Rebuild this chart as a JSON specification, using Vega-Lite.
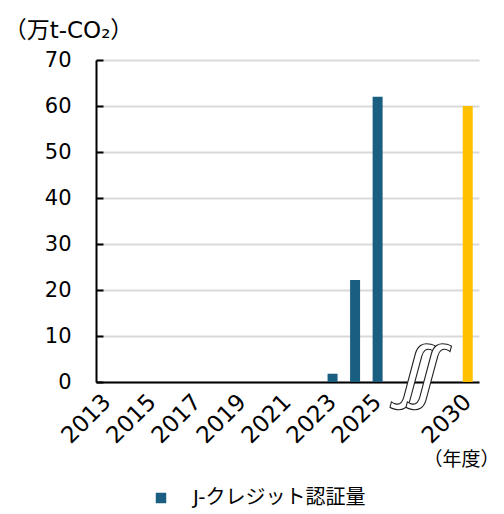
{
  "$schema": "https://vega.github.io/schema/vega-lite/v6.json",
  "width": 383,
  "height": 322,
  "autosize": "none",
  "padding": {"left": 96, "top": 60, "right": 25, "bottom": 132},
  "background": "white",
  "config": {"view": {"stroke": null}, "font": "DejaVu Sans, Noto Sans CJK JP"},
  "data": {"values": [
    {"year": "2013", "value": 0, "type": "J-クレジット認証量"},
    {"year": "2014", "value": 0, "type": "J-クレジット認証量"},
    {"year": "2015", "value": 0, "type": "J-クレジット認証量"},
    {"year": "2016", "value": 0, "type": "J-クレジット認証量"},
    {"year": "2017", "value": 0, "type": "J-クレジット認証量"},
    {"year": "2018", "value": 0, "type": "J-クレジット認証量"},
    {"year": "2019", "value": 0, "type": "J-クレジット認証量"},
    {"year": "2020", "value": 0, "type": "J-クレジット認証量"},
    {"year": "2021", "value": 0, "type": "J-クレジット認証量"},
    {"year": "2022", "value": 0, "type": "J-クレジット認証量"},
    {"year": "2023", "value": 1.8, "type": "J-クレジット認証量"},
    {"year": "2024", "value": 22.2, "type": "J-クレジット認証量"},
    {"year": "2025", "value": 62, "type": "J-クレジット認証量"},
    {"year": "2030", "value": 60, "type": "目標"}
  ]},
  "layer": [
    {
      "mark": {"type": "bar", "width": 10},
      "encoding": {
        "x": {
          "field": "year", "type": "nominal",
          "scale": {"domain": ["2013","2014","2015","2016","2017","2018","2019","2020","2021","2022","2023","2024","2025","2026","2027","2028","2030"], "paddingInner": 0, "paddingOuter": 0},
          "axis": {
            "labelExpr": "indexof(['2013','2015','2017','2019','2021','2023','2025','2030'], datum.value) >= 0 ? datum.value : ''",
            "labelAngle": -45, "labelAlign": "right", "labelBaseline": "middle",
            "labelFontSize": 23, "labelColor": "#000000", "labelPadding": 16,
            "ticks": false, "domainColor": "#000000", "domainWidth": 2,
            "title": "（年度）", "titleFontSize": 19, "titleFontWeight": "normal", "titleColor": "#000000",
            "titleX": 365, "titleY": 77, "titleAnchor": null, "titleAlign": "center", "titleBaseline": "middle",
            "labelFont": "DejaVu Sans", "labelOverlap": false
          }
        },
        "y": {
          "field": "value", "type": "quantitative",
          "scale": {"domain": [0, 70]},
          "axis": {
            "values": [0,10,20,30,40,50,60,70],
            "labelFontSize": 21, "labelColor": "#000000", "labelPadding": 32,
            "tickSize": -7, "tickColor": "#000000", "tickWidth": 2,
            "domainColor": "#000000", "domainWidth": 2,
            "gridColor": "#d9d9d9", "gridWidth": 2,
            "title": "（万t-CO₂）", "titleAngle": 0, "titleFontSize": 23, "titleFontWeight": "normal", "titleColor": "#000000",
            "titleX": -28, "titleY": -30, "titleAlign": "center", "titleBaseline": "middle",
            "labelFont": "DejaVu Sans"
          }
        },
        "color": {
          "field": "type", "type": "nominal",
          "scale": {"domain": ["J-クレジット認証量", "目標"], "range": ["#1A5F82", "#FFC000"]},
          "legend": {
            "values": ["J-クレジット認証量"], "title": null, "orient": "none",
            "legendX": 55, "legendY": 428, "symbolType": "square", "symbolSize": 110,
            "labelFontSize": 20, "labelColor": "#000000", "labelOffset": 22, "labelLimit": 0
          }
        }
      }
    },
    {
      "data": {"values": [{"year": "2027", "value": 1.8, "mark": "∫", "k": "a"}, {"year": "2027", "value": 1.8, "mark": "∫", "k": "b"}]},
      "mark": {"type": "text", "fontSize": 76, "angle": 15, "font": "Liberation Sans", "fill": "white", "stroke": "#222222", "strokeWidth": 1.1},
      "encoding": {
        "x": {"field": "year", "type": "nominal"},
        "xOffset": {"field": "k", "type": "nominal", "scale": {"paddingOuter": 0, "paddingInner": 0, "range": [2, 18]}},
        "y": {"field": "value", "type": "quantitative"},
        "text": {"field": "mark"}
      }
    }
  ]
}
